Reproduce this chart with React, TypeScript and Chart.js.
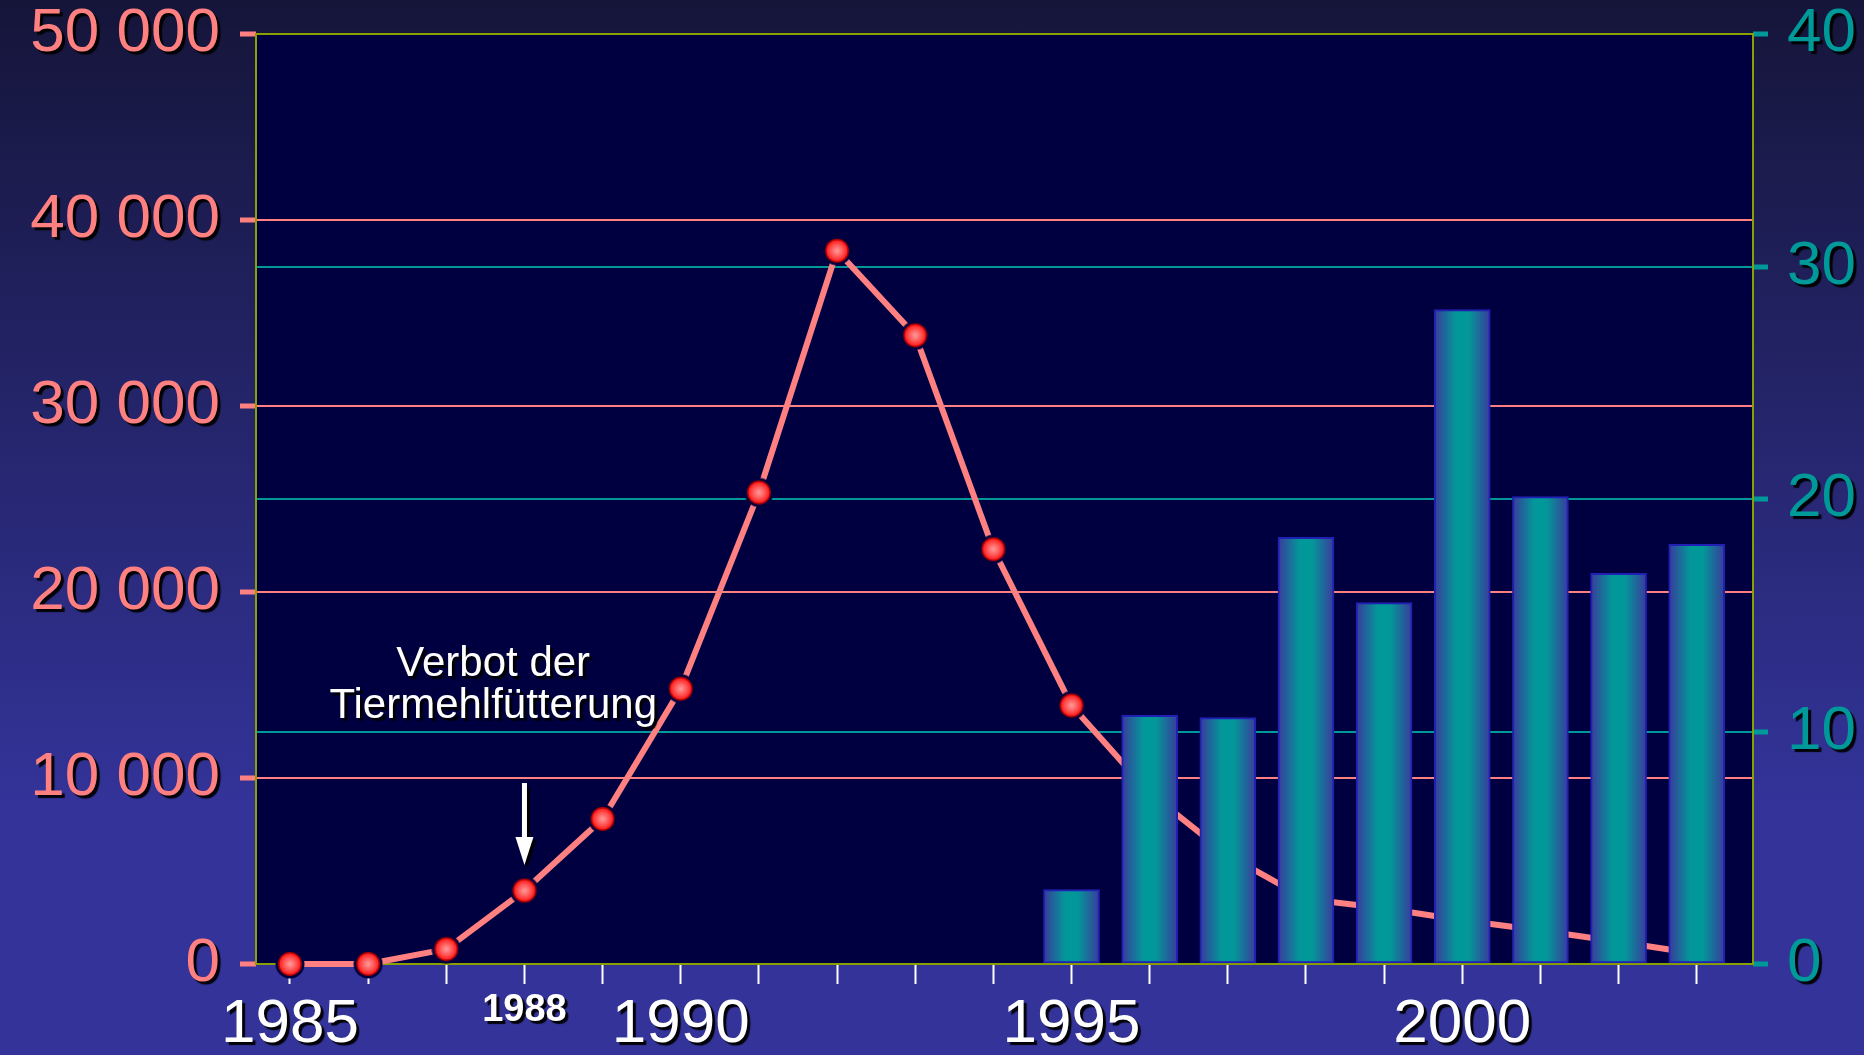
import React, { useEffect, useRef } from 'react';
import { Chart, registerables } from 'chart.js';

Chart.register(...registerables);

// ---- data ----
const years = [1985, 1986, 1987, 1988, 1989, 1990, 1991, 1992, 1993, 1994, 1995, 1996, 1997, 1998, 1999, 2000, 2001, 2002, 2003];
const bseCases = [0, 0, 800, 3950, 7800, 14800, 25350, 38350, 33800, 22300, 13900, 9200, 5850, 3500, 3000, 2350, 1800, 1200, 550];
const vcjdYears = [1995, 1996, 1997, 1998, 1999, 2000, 2001, 2002, 2003];
const vcjdDeaths = [3.2, 10.7, 10.6, 18.35, 15.55, 28.15, 20.1, 16.8, 18.05];
const labeledYears = [1985, 1988, 1990, 1995, 2000];
const smallLabelYears = [1988];
const lastMarkerYear = 1995;
const annotationText = ['Verbot der', 'Tiermehlfütterung'];

// ---- style ----
const FONT = '"Liberation Sans", Arial, Helvetica, sans-serif';
const PINK = '#ff8080';
const TEAL = '#009999';
const PLOT_BG = '#000040';
const FRAME = '#8aa000';
const BAR_W = 56;

function thousands(v: number): string {
  return String(v).replace(/\B(?=(\d{3})+(?!\d))/g, ' ');
}

function makeMarker(): HTMLCanvasElement {
  const c = document.createElement('canvas');
  const size = 30;
  c.width = size;
  c.height = size;
  const g = c.getContext('2d')!;
  const m = size / 2;
  g.fillStyle = PLOT_BG;
  g.beginPath();
  g.arc(m, m, 14.5, 0, Math.PI * 2);
  g.fill();
  g.fillStyle = '#b00000';
  g.beginPath();
  g.arc(m, m, 11.9, 0, Math.PI * 2);
  g.fill();
  const rg = g.createRadialGradient(m, m, 0, m, m, 10.5);
  rg.addColorStop(0, '#ff9c9c');
  rg.addColorStop(0.55, '#ff5a5a');
  rg.addColorStop(1, '#ff1c1c');
  g.fillStyle = rg;
  g.beginPath();
  g.arc(m, m, 10.5, 0, Math.PI * 2);
  g.fill();
  return c;
}

const decorPlugin = {
  id: 'decor',
  beforeDraw(chart: any) {
    const { ctx, chartArea: a } = chart;
    ctx.save();
    ctx.fillStyle = PLOT_BG;
    ctx.fillRect(a.left, a.top, a.right - a.left, a.bottom - a.top);
    ctx.restore();
  },
  beforeDatasetsDraw(chart: any) {
    const { ctx, chartArea: a } = chart;
    ctx.save();
    ctx.strokeStyle = FRAME;
    ctx.lineWidth = 2;
    ctx.strokeRect(a.left, a.top, a.right - a.left, a.bottom - a.top);
    ctx.restore();
  },
  afterDatasetsDraw(chart: any) {
    const ctx = chart.ctx;
    ctx.shadowColor = 'rgba(0,0,0,0.95)';
    ctx.shadowOffsetX = 3;
    ctx.shadowOffsetY = 3;
    ctx.shadowBlur = 1;
  },
  afterDraw(chart: any) {
    const ctx = chart.ctx;
    const xs = chart.scales.x;
    const ys = chart.scales.y;
    ctx.save();
    ctx.fillStyle = '#ffffff';
    ctx.font = `42px ${FONT}`;
    ctx.textAlign = 'center';
    ctx.textBaseline = 'middle';
    const tx = xs.getPixelForValue(1987.6);
    ctx.fillText(annotationText[0], tx, ys.getPixelForValue(16100));
    ctx.fillText(annotationText[1], tx, ys.getPixelForValue(13850));
    // arrow
    const ax = xs.getPixelForValue(1988);
    const yTop = ys.getPixelForValue(9730);
    const yHead = ys.getPixelForValue(6830);
    const yTip = ys.getPixelForValue(5320);
    ctx.fillRect(ax - 2.5, yTop, 5, yHead - yTop + 2);
    ctx.beginPath();
    ctx.moveTo(ax - 9, yHead);
    ctx.lineTo(ax + 9, yHead);
    ctx.lineTo(ax, yTip);
    ctx.closePath();
    ctx.fill();
    ctx.restore();
    ctx.shadowColor = 'rgba(0,0,0,0)';
    ctx.shadowOffsetX = 0;
    ctx.shadowOffsetY = 0;
    ctx.shadowBlur = 0;
  },
};

function barGradient(c: any) {
  const chart = c.chart;
  if (!chart.chartArea || c.type !== 'data') return TEAL;
  const cx = chart.scales.x.getPixelForValue(vcjdYears[c.dataIndex]);
  const h = BAR_W / 2;
  const g = chart.ctx.createLinearGradient(cx - h, 0, cx + h, 0);
  g.addColorStop(0, '#3a3a9c');
  g.addColorStop(0.38, '#049699');
  g.addColorStop(0.5, '#009999');
  g.addColorStop(0.62, '#049699');
  g.addColorStop(1, '#3a3a9c');
  return g;
}

export default function App() {
  const ref = useRef<HTMLCanvasElement>(null);
  useEffect(() => {
    document.body.style.margin = '0';
    document.documentElement.style.overflow = 'hidden';
    const marker = makeMarker();
    const chart = new Chart(ref.current!, {
      type: 'bar',
      data: {
        datasets: [
          {
            type: 'line',
            label: 'BSE',
            data: years.map((x, i) => ({ x, y: bseCases[i] })),
            xAxisID: 'x',
            yAxisID: 'y',
            order: 2,
            borderColor: PINK,
            borderWidth: 6,
            tension: 0,
            borderJoinStyle: 'round',
            pointStyle: marker,
            pointRadius: (c: any) => (years[c.dataIndex] > lastMarkerYear ? 0 : 12),
            clip: false,
          } as any,
          {
            type: 'bar',
            label: 'vCJD',
            data: vcjdYears.map((x, i) => ({ x, y: vcjdDeaths[i] })),
            xAxisID: 'x',
            yAxisID: 'y1',
            order: 1,
            barThickness: BAR_W,
            backgroundColor: barGradient,
            borderColor: '#2020b4',
            borderWidth: 2,
            borderSkipped: false,
          } as any,
        ],
      },
      options: {
        animation: false,
        responsive: true,
        maintainAspectRatio: false,
        events: [],
        layout: { padding: { top: 34, left: 0, right: 0, bottom: 0 } },
        plugins: { legend: { display: false }, tooltip: { enabled: false } },
        scales: {
          x: {
            type: 'linear',
            position: 'bottom',
            min: 1984.565,
            max: 2003.72,
            offset: false,
            afterBuildTicks: (s: any) => {
              s.ticks = years.map((v) => ({ value: v }));
            },
            afterFit: (s: any) => {
              s.height = 91;
              s.paddingLeft = 0;
              s.paddingRight = 0;
            },
            grid: {
              offset: false,
              drawOnChartArea: false,
              drawTicks: true,
              tickLength: 20,
              tickColor: '#ffffff',
              tickWidth: 2,
            },
            border: { display: false },
            ticks: {
              z: 1,
              autoSkip: false,
              maxRotation: 0,
              minRotation: 0,
              padding: 4,
              color: '#ffffff',
              callback: (v: any) => (labeledYears.includes(Number(v)) ? String(v) : ''),
              font: (c: any) =>
                c.tick && smallLabelYears.includes(c.tick.value)
                  ? { family: FONT, size: 38, weight: 'bold' }
                  : { family: FONT, size: 62 },
            },
          },
          y: {
            type: 'linear',
            position: 'left',
            min: 0,
            max: 50000,
            afterFit: (s: any) => {
              s.width = 256;
              s.paddingTop = 0;
              s.paddingBottom = 0;
            },
            grid: {
              color: PINK,
              lineWidth: 2,
              tickColor: PINK,
              tickWidth: 5,
              tickLength: 16,
            },
            border: { display: false },
            ticks: {
              z: 1,
              stepSize: 10000,
              padding: 20,
              color: PINK,
              font: { family: FONT, size: 62 },
              callback: (v: any) => thousands(Number(v)),
            },
          },
          y1: {
            type: 'linear',
            position: 'right',
            min: 0,
            max: 40,
            afterFit: (s: any) => {
              s.width = 111;
              s.paddingTop = 0;
              s.paddingBottom = 0;
            },
            grid: {
              color: TEAL,
              lineWidth: 2,
              tickColor: TEAL,
              tickWidth: 5,
              tickLength: 15,
            },
            border: { display: false },
            ticks: {
              z: 1,
              stepSize: 10,
              padding: 19,
              color: TEAL,
              font: { family: FONT, size: 62 },
            },
          },
        },
      },
      plugins: [decorPlugin],
    } as any);
    return () => chart.destroy();
  }, []);
  return (
    <div
      style={{
        width: 1864,
        height: 1055,
        position: 'relative',
        background: 'linear-gradient(to bottom, #15153a 0%, #333399 76%, #333399 100%)',
      }}
    >
      <canvas ref={ref} />
    </div>
  );
}
